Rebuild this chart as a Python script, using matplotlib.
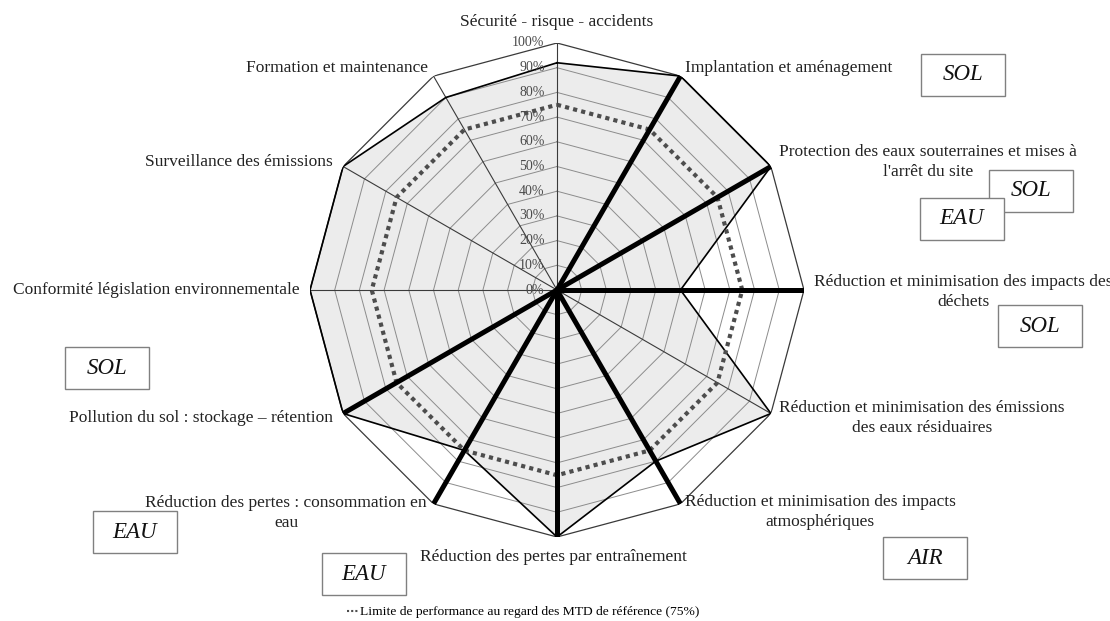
import numpy as np
import matplotlib
matplotlib.use("Agg")
import matplotlib.pyplot as plt
from matplotlib.lines import Line2D
from matplotlib.patches import Rectangle

# axes, clockwise from the top
categories = [
    "Sécurité - risque - accidents",
    "Implantation et aménagement",
    "Protection des eaux souterraines et mises à\nl'arrêt du site",
    "Réduction et minimisation des impacts des\ndéchets",
    "Réduction et minimisation des émissions\ndes eaux résiduaires",
    "Réduction et minimisation des impacts\natmosphériques",
    "Réduction des pertes par entraînement",
    "Réduction des pertes : consommation en\neau",
    "Pollution du sol : stockage – rétention",
    "Conformité législation environnementale",
    "Surveillance des émissions",
    "Formation et maintenance",
]
scores = [92, 100, 100, 50, 100, 80, 100, 75, 100, 100, 100, 90]
reference = [75] * 12
highlight = [0, 1, 1, 1, 0, 1, 1, 1, 1, 0, 0, 0]
levels = [10, 20, 30, 40, 50, 60, 70, 80, 90, 100]
level_labels = ["0%"] + ["%d%%" % v for v in levels]

# label placement, pixel coords (x, y of first line from top), alignment
label_pos = [
    (557, 22, "center"),
    (685, 68, "left"),
    (928, 152, "center"),
    (963, 282, "center"),
    (922, 408, "center"),
    (820, 502, "center"),
    (553, 557, "center"),
    (286, 503, "center"),
    (201, 418, "center"),
    (156, 290, "center"),
    (333, 162, "right"),
    (428, 68, "right"),
]

box_labels = ["SOL", "SOL", "EAU", "SOL", "SOL", "EAU", "EAU", "AIR"]
box_centers = [(963, 75), (1031, 191), (962, 219), (1040, 326),
               (107, 368), (135, 532), (364, 574), (925, 558)]

W, H = 1110, 621
plt.rcParams["font.family"] = ["Liberation Serif", "DejaVu Serif"]

fig = plt.figure(figsize=(W / 100, H / 100), dpi=100)


def fx(x):
    return x / W


def fy(y):
    return 1 - y / H


cx, cy, rad = 557, 290, 247
ax = fig.add_axes([fx(cx - rad), fy(cy + rad), 2 * rad / W, 2 * rad / H],
                  projection="polar")
ax.set_theta_zero_location("N")
ax.set_theta_direction(-1)
ax.set_ylim(0, 100)
ax.grid(False)
ax.set_xticks([])
ax.set_yticks([])
ax.spines["polar"].set_visible(False)
ax.patch.set_alpha(0)

n = len(categories)
theta = np.linspace(0, 2 * np.pi, n, endpoint=False)
theta_c = np.append(theta, theta[0])

# data polygon
s = np.append(scores, scores[0])
ax.fill(theta_c, s, color="#ececec", zorder=1)

# grid rings
for lv in levels:
    ring = np.full(n + 1, lv)
    if lv == 100:
        ax.plot(theta_c, ring, color="#3a3a3a", lw=0.9, zorder=2)
    else:
        ax.plot(theta_c, ring, color="#8c8c8c", lw=0.7, zorder=2)

# spokes
for t in theta:
    ax.plot([t, t], [0, 100], color="#3a3a3a", lw=0.8, zorder=2)

ax.plot(theta_c, s, color="black", lw=1.2, zorder=3)

# 75% reference line
r = np.append(reference, reference[0])
ax.plot(theta_c, r, color="#4d4d4d", lw=3, linestyle=(0, (1, 1)),
        dash_capstyle="butt", zorder=4)

# thick highlighted axes
for t, h in zip(theta, highlight):
    if h:
        ax.plot([t, t], [0, 100], color="black", lw=3.6,
                solid_capstyle="butt", zorder=5)

# radial tick labels
for lv, lab in zip([0] + levels, level_labels):
    ax.annotate(lab, xy=(0, lv), xytext=(-9, 0), textcoords="offset points",
                ha="right", va="center", fontsize=10, color="#4a4a4a",
                zorder=6)

# category labels, one text per line
for lab, (x, y, ha) in zip(categories, label_pos):
    for i, line in enumerate(lab.split("\n")):
        fig.text(fx(x), fy(y + 20 * i), line, ha=ha, va="center",
                 fontsize=12.5, color="#222222")

# category boxes
bw, bh = 84, 42
for lab, (x, y) in zip(box_labels, box_centers):
    fig.patches.append(Rectangle((fx(x - bw / 2), fy(y + bh / 2)), bw / W, bh / H,
                                 transform=fig.transFigure, facecolor="white",
                                 edgecolor="#808080", lw=1.0))
    fig.text(fx(x), fy(y), lab, ha="center", va="center", fontsize=16.5,
             style="italic", color="#111111")

# legend
handle = Line2D([], [], color="#4d4d4d", lw=1.5, linestyle=(0, (1, 1)))
fig.legend([handle], ["Limite de performance au regard des MTD de référence (75%)"],
           loc="center left", bbox_to_anchor=(fx(340), fy(612)), frameon=False,
           handlelength=0.8, handletextpad=0.2, fontsize=9.7, borderpad=0)

fig.savefig("out.png", dpi=100)
